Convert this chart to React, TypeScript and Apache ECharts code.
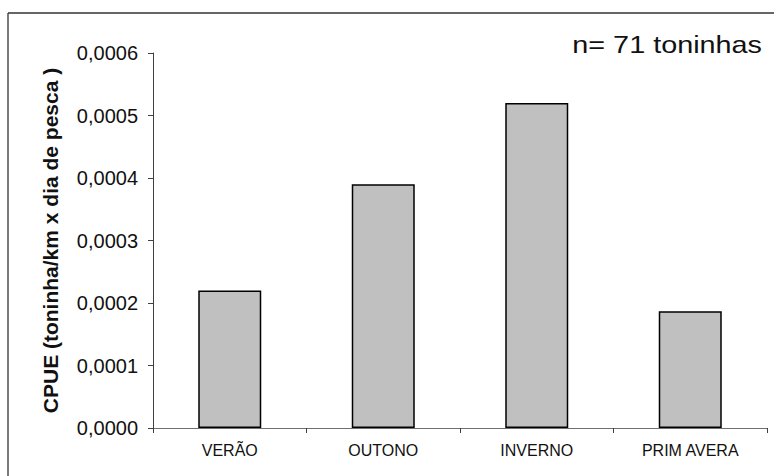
import React, { useEffect, useRef } from "react";
import * as echarts from "echarts";

const categories = ["VERÃO", "OUTONO", "INVERNO", "PRIM AVERA"];
const cpueValues = [0.00022, 0.00039, 0.00052, 0.000187];
const yTickLabels = ["0,0000", "0,0001", "0,0002", "0,0003", "0,0004", "0,0005", "0,0006"];
const yAxisTitle = "CPUE (toninha/km x dia de pesca )";
const noteText = "n= 71 toninhas";

const FONT = "'Liberation Sans', Arial, Helvetica, sans-serif";

export default function App() {
  const ref = useRef<HTMLDivElement>(null);
  useEffect(() => {
    if (!ref.current) return;
    const chart = echarts.init(ref.current, null, { renderer: "svg" });
    chart.setOption({
      animation: false,
      backgroundColor: "#ffffff",
      grid: { left: 153, right: 7, top: 53, bottom: 48, containLabel: false },
      xAxis: {
        type: "category",
        data: categories,
        boundaryGap: true,
        axisLine: { show: true, lineStyle: { color: "#707070", width: 1 } },
        axisTick: { show: true, length: 5, lineStyle: { color: "#404040" } },
        axisLabel: { color: "#111", fontSize: 16, fontFamily: FONT, margin: 14 },
        splitLine: { show: false },
      },
      yAxis: {
        type: "value",
        min: 0,
        max: 0.0006,
        interval: 0.0001,
        name: yAxisTitle,
        nameLocation: "middle",
        nameGap: 92,
        nameTextStyle: { color: "#111", fontSize: 21, fontWeight: "bold", fontFamily: FONT },
        axisLine: { show: true, lineStyle: { color: "#404040", width: 1 } },
        axisTick: { show: true, inside: false, length: 5, lineStyle: { color: "#404040" } },
        axisLabel: {
          color: "#111",
          fontSize: 20,
          fontFamily: FONT,
          margin: 15,
          formatter: (v: number) => yTickLabels[Math.round(v / 0.0001)] ?? "",
        },
        splitLine: { show: false },
      },
      series: [
        {
          type: "bar",
          data: cpueValues,
          barWidth: 63,
          itemStyle: { color: "#c0c0c0", borderColor: "#000000", borderWidth: 1.5 },
        },
      ],
      graphic: [
        {
          type: "line",
          shape: { x1: 8, y1: 13, x2: 774, y2: 13 },
          style: { stroke: "#333333", lineWidth: 1.3 },
        },
        {
          type: "line",
          shape: { x1: 8, y1: 13, x2: 8, y2: 476 },
          style: { stroke: "#333333", lineWidth: 1.3 },
        },
        {
          type: "text",
          x: 762,
          y: 45,
          scaleX: 1.2,
          style: {
            text: noteText,
            x: 0,
            y: 0,
            fill: "#111",
            fontSize: 24,
            fontFamily: FONT,
            textAlign: "right",
            textVerticalAlign: "middle",
          },
        },
      ],
    });
    return () => chart.dispose();
  }, []);
  return (
    <div
      ref={ref}
      style={{ position: "fixed", left: 0, top: 0, width: 774, height: 476, background: "#fff" }}
    />
  );
}
